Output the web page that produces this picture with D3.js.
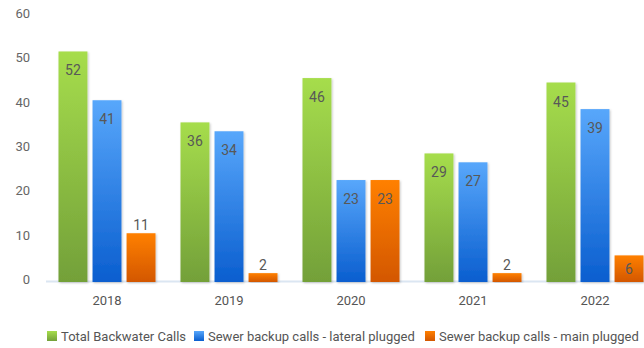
<!DOCTYPE html>
<html>
<head>
<meta charset="utf-8">
<script src="https://cdn.jsdelivr.net/npm/d3@7"></script>
<style>
  html, body { margin: 0; padding: 0; background: #fff; }
  svg { display: block; font-family: Roboto, "Noto Sans", sans-serif; }
</style>
</head>
<body>
<svg id="chart" width="644" height="348"></svg>
<script>
// Yearly call counts
const years = ["2018", "2019", "2020", "2021", "2022"];
const seriesNames = ["Total Backwater Calls", "Sewer backup calls - lateral plugged", "Sewer backup calls - main plugged"];
const totalBackwater = [52, 36, 46, 29, 45];
const lateralPlugged = [41, 34, 23, 27, 39];
const mainPlugged = [11, 2, 23, 2, 6];
const yTicks = [0, 10, 20, 30, 40, 50, 60];

const seriesValues = [totalBackwater, lateralPlugged, mainPlugged];
const gradients = [
  ["#a6dd4c", "#73a039"],
  ["#58a7fb", "#0a5ecf"],
  ["#ff8000", "#d35700"]
];

const svg = d3.select("#chart");
const defs = svg.append("defs");

gradients.forEach((g, i) => {
  const lg = defs.append("linearGradient")
    .attr("id", "grad" + i)
    .attr("x1", 0).attr("y1", 0).attr("x2", 0).attr("y2", 1);
  lg.append("stop").attr("offset", "0%").attr("stop-color", g[0]);
  lg.append("stop").attr("offset", "100%").attr("stop-color", g[1]);
});

const shadow = defs.append("filter").attr("id", "barShadow")
  .attr("x", "-20%").attr("y", "-5%").attr("width", "140%").attr("height", "115%");
shadow.append("feDropShadow")
  .attr("dx", 1).attr("dy", 1).attr("stdDeviation", 1.2)
  .attr("flood-color", "#000").attr("flood-opacity", 0.22);

const x0 = d3.scaleBand().domain(years).range([46, 656]).paddingInner(0).paddingOuter(0);
const x1 = d3.scaleBand().domain(d3.range(seriesNames.length))
  .range([12.5, x0.bandwidth() - 12.5]).paddingInner(0.15);
const y = d3.scaleLinear().domain([0, 60]).range([282, 16]);

// y axis labels (no axis line)
const yAxis = d3.axisLeft(y).tickValues(yTicks).tickSize(0).tickPadding(0);
const gy = svg.append("g").attr("transform", "translate(30,0)").call(yAxis);
gy.select(".domain").remove();
gy.selectAll("text")
  .attr("font-size", 13).attr("fill", "#666").attr("dy", "0.12em")
  .style("font-family", "Roboto, sans-serif");

// baseline
svg.append("line")
  .attr("x1", 46).attr("x2", 644)
  .attr("y1", y(0) - 0.5).attr("y2", y(0) - 0.5)
  .attr("stroke", "#dbe6f2").attr("stroke-width", 2);

// x axis labels
const xAxis = d3.axisBottom(x0).tickSize(0).tickPadding(0);
const gx = svg.append("g").attr("transform", "translate(0,296)").call(xAxis);
gx.select(".domain").remove();
gx.selectAll("text")
  .attr("font-size", 13).attr("fill", "#555").attr("dy", "0.7em")
  .style("font-family", "Roboto, sans-serif");

// bars
const groups = svg.append("g").selectAll("g")
  .data(years)
  .join("g")
  .attr("transform", d => `translate(${x0(d)},0)`);

const cells = groups.selectAll("g.cell")
  .data((yr, yi) => seriesValues.map((vals, si) => ({ si, value: vals[yi] })))
  .join("g").attr("class", "cell");

cells.append("rect")
  .attr("x", d => x1(d.si))
  .attr("width", x1.bandwidth())
  .attr("y", d => y(d.value))
  .attr("height", d => y(0) - y(d.value))
  .attr("fill", d => `url(#grad${d.si})`)
  .attr("filter", "url(#barShadow)");

// value labels: inside near the top, or above for short bars
cells.append("text")
  .attr("x", d => x1(d.si) + x1.bandwidth() / 2)
  .attr("y", d => {
    const inside = d.value >= 5 && d.value !== 11;
    if (!inside) return y(d.value) - 3;
    const h = y(0) - y(d.value);
    return h < 40 ? y(d.value) + h / 2 + 5 : y(d.value) + 24;
  })
  .attr("text-anchor", "middle")
  .attr("font-size", 14)
  .attr("fill", "#585858")
  .text(d => d.value);

// legend
const legendX = [47, 194, 425];
const legend = svg.append("g").selectAll("g")
  .data(seriesNames)
  .join("g")
  .attr("transform", (d, i) => `translate(${legendX[i]},331)`);
legend.append("rect")
  .attr("width", 10).attr("height", 10)
  .attr("fill", (d, i) => `url(#grad${i})`);
legend.append("text")
  .attr("x", 14).attr("y", 5).attr("dy", "0.35em")
  .attr("font-size", 13).attr("fill", "#555")
  .text(d => d);
</script>
</body>
</html>
